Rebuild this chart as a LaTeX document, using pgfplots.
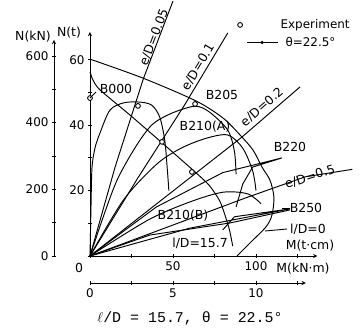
\documentclass[border=0pt]{standalone}
\usepackage{fontspec}
\setmainfont{DejaVu Sans}
\newfontfamily\capfont{Liberation Mono}
\usepackage{pgfplots}
\pgfplotsset{compat=1.18}
\pgfplotsset{
  common/.style={
    axis line style={-, line width=0.9bp},
    tick style={line width=0.9bp, black},
    tick align=inside,
    major tick length=4bp,
    tick label style={font=\fontsize{12}{14}\selectfont},
    /pgf/number format/assume math mode=true,
  }
}
\begin{document}
\begin{tikzpicture}[x=1bp,y=1bp]
\useasboundingbox (-90,-78) rectangle (271,256);
% N(kN) axis
\begin{axis}[common, at={(-36bp,0)}, anchor=south west, x=1bp, y=0.3334bp,
  xmin=0, xmax=1, ymin=0, ymax=648,
  axis x line=none, axis y line=left,
  ytick={0,100,...,600}, yticklabels={0,,200,,400,,600}]
\end{axis}
% M(kN m) axis
\begin{axis}[common, at={(0,-27bp)}, anchor=south west, x=16.6bp, y=1bp,
  xmin=0, xmax=13, ymin=0, ymax=1,
  axis y line=none, axis x line=bottom,
  xtick={0,2.5,...,12.5}, xticklabels={0,,5,,10,}]
\end{axis}
% main axis: M (t cm), N (t)
\begin{axis}[common, at={(0,0)}, anchor=south west, x=1.66bp, y=3.27bp,
  xmin=0, xmax=137, ymin=0, ymax=68.5,
  axis lines=left, clip=false,
  xtick={0,25,...,125}, xticklabels={,,50,,100,},
  ytick={0,10,...,60}, yticklabels={,,20,,40,,60},
  every axis plot/.append style={black, line width=0.95bp},
  legend style={at={(axis description cs:0.624,1.065)}, anchor=north west,
    draw=none, fill=none, font=\fontsize{12}{14}\selectfont, row sep=3bp,
    inner sep=0pt},
  legend cell align=left]
% outer interaction curve (l/D = 0)
\addplot[smooth, tension=0.5, forget plot] coordinates {(0,60.2) (31.9,54.4) (63.9,47.4) (80.1,42.2) (90.4,37.0) (98.2,32.4) (103.6,27.2) (108.4,23.2) (110.8,18.0) (109.6,12.5) (106.0,8.9) (96.4,4.0) (88.6,0)};
% inner interaction curve (l/D = 15.7)
\addplot[smooth, tension=0.4, forget plot] coordinates {(0,56.3) (1.8,53.8) (6,50.8) (24.1,43.1) (43.4,34.6) (63.3,25.7) (72,21.5) (78,17) (81,13) (84,8) (86,3)};
% e/D lines
\addplot[forget plot] coordinates {(0,0) (15,27) (32,54) (50,78)};
\addplot[forget plot] coordinates {(0,0) (29,24) (57,46.2) (83,68.2)};
\addplot[forget plot] coordinates {(0,0) (91.6,36.4) (126.5,51.7)};
\addplot[forget plot] coordinates {(0,0) (93.4,17.7) (129.5,24.2) (158,26.5)};
% load paths
\addplot[smooth, tension=0.5, forget plot] coordinates {(0,0) (0.6,15) (1.2,27) (3,33) (6,37.6) (12,44.6) (20,46.8) (29,47.1) (37,46.2) (42,42.5) (45,35.5) (46.5,27) (47.5,20)};
\addplot[smooth, tension=0.5, forget plot] coordinates {(0,0) (8,12) (16.3,23.2) (27,33) (37.3,40.1) (49.4,43.7) (63.3,45.8) (72,44) (83,38.5) (87,32) (88,25)};
\addplot[smooth, tension=0.5, forget plot] coordinates {(0,0) (20,17) (40,28) (55,33) (70,36) (83,37) (92,33) (98,26) (100,20)};
\addplot[smooth, tension=0.5, forget plot] coordinates {(0,0) (35,11) (60,16.5) (80,19.5) (95,19) (103,16)};
\addplot[forget plot] coordinates {(0,0) (40,15) (80,25.5) (115.7,30.0) (98,27.2) (92,22) (88,15)};
\addplot[forget plot] coordinates {(0,0) (60,8.5) (120.5,14.4) (87,12) (80,8)};
\addplot[forget plot] coordinates {(0,0) (36,6.4) (84.3,10.1) (120.5,14.1)};
% experiment
\addplot[only marks, mark=*, mark size=2.4bp, mark options={fill=white, draw=black, line width=0.9bp}, forget plot] coordinates {(0,48.3) (28.9,45.9) (63.3,46.5) (43.4,34.9) (61.4,25.7)};
\addlegendimage{legend image code/.code={\path[draw=none, fill=none] (0bp,0bp) -- (46bp,0bp); \draw[black, line width=0.9bp, fill=white] (8bp,0bp) circle (2.4bp);}}
\addlegendentry{Experiment}
\addlegendimage{legend image code/.code={\draw[black, line width=0.9bp] (15bp,0bp) -- (46bp,0bp); \fill[black] (30bp,0bp) circle (1.1bp);}}
\addlegendentry{\hspace{5bp}θ=22.5°}
\end{axis}
\begin{scope}[every node/.style={font=\fontsize{12.5}{14}\selectfont, inner sep=0pt}]
\node at (-57,219) {N(kN)};
\node at (-21,223) {N(t)};
\node at (-11,-12) {0};
\node at (220,10) {M(t·cm)};
\node at (213,-13) {M(kN·m)};
\node at (26,167) {B000};
\node[rotate=69] at (64,219) {e/D=0.05};
\node[rotate=59] at (108,189) {e/D=0.1};
\node at (132,161) {B205};
\node[rotate=41] at (172,149) {e/D=0.2};
\node at (115,129) {B210(A)};
\node at (200,109) {B220};
\node[rotate=18] at (220,79) {e/D=0.5};
\node at (216,48) {B250};
\node at (218,27) {l/D=0};
\node at (93,40) {B210(B)};
\node at (110,13) {l/D=15.7};
\end{scope}
\draw[line width=0.9bp] (197,27) -- (175,25);
\draw[line width=0.9bp] (200,48) -- (192,48);
\draw[line width=0.9bp] (0,158) -- (6,164);
\node[font=\capfont\fontsize{15}{17}\selectfont, inner sep=0pt] at (100,-62) {$\ell$/D = 15.7, θ = 22.5°};
\end{tikzpicture}
\end{document}
